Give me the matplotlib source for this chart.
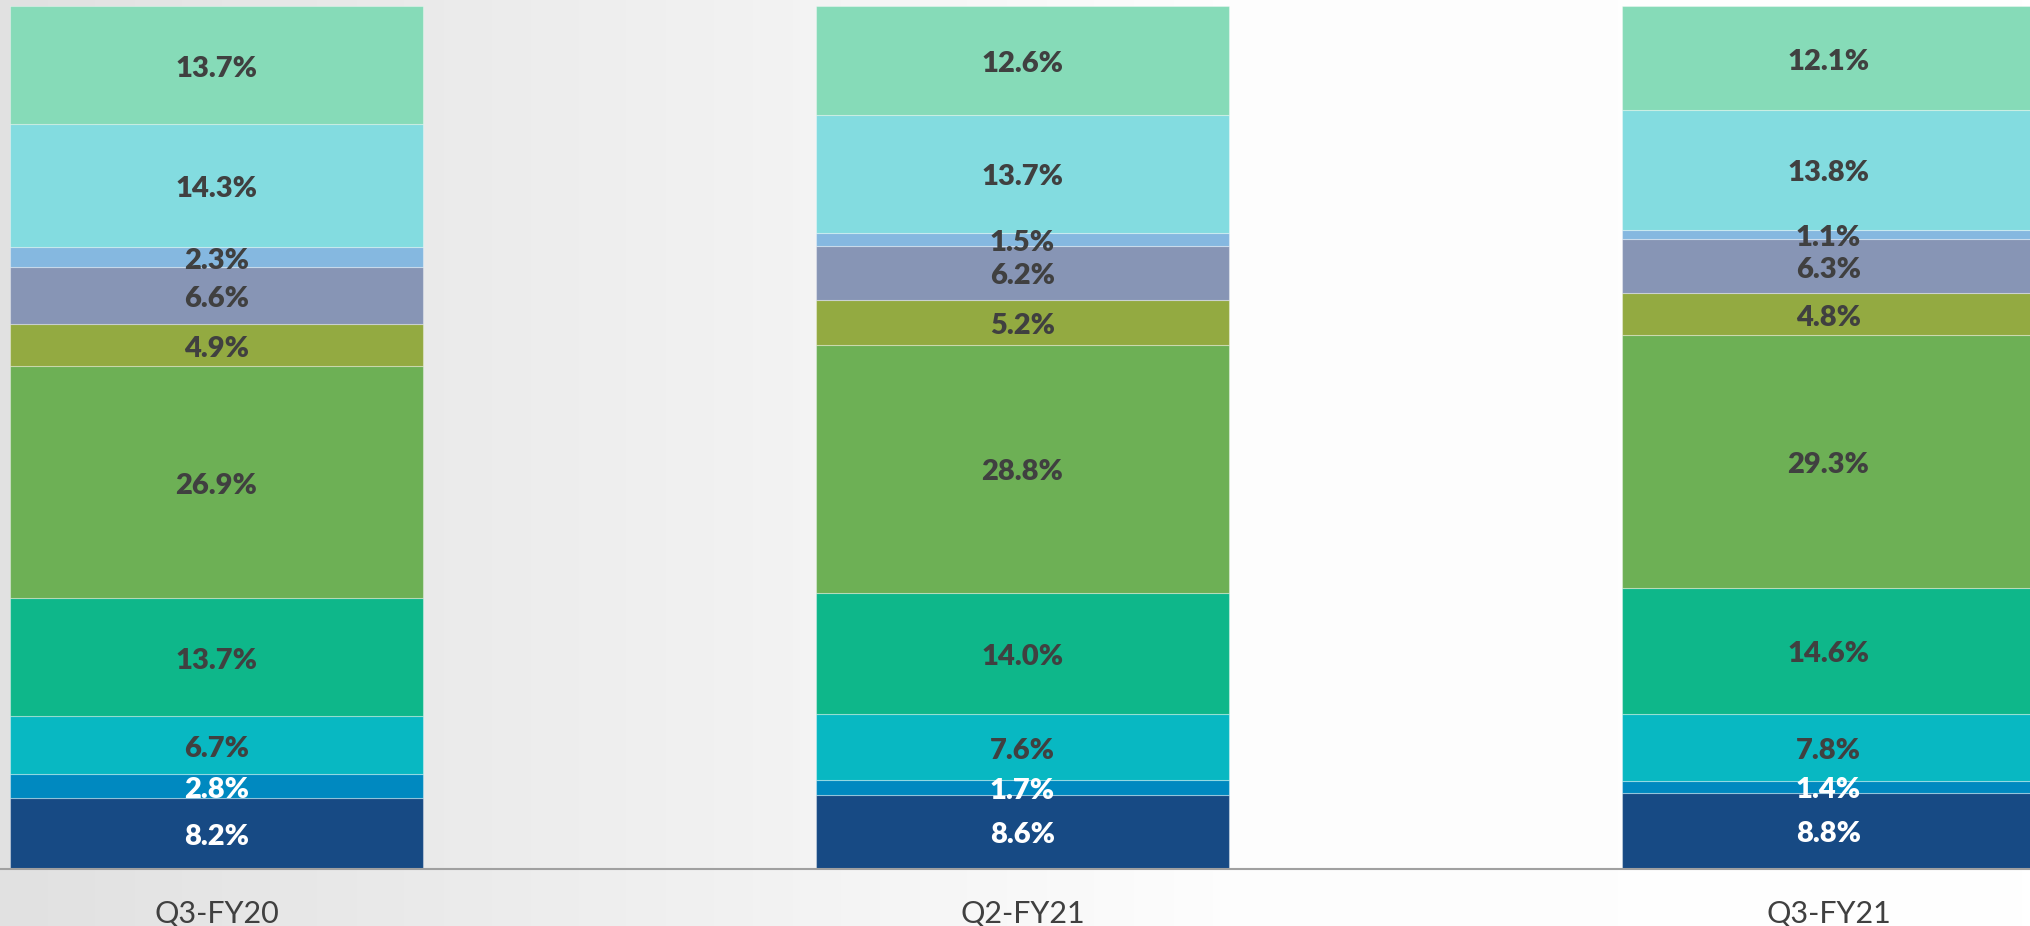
import numpy as np
import matplotlib.pyplot as plt
from matplotlib.colors import LinearSegmentedColormap

categories = ["Q3-FY20", "Q2-FY21", "Q3-FY21"]
# segments from bottom to top
seg1 = [8.2, 8.6, 8.8]
seg2 = [2.8, 1.7, 1.4]
seg3 = [6.7, 7.6, 7.8]
seg4 = [13.7, 14.0, 14.6]
seg5 = [26.9, 28.8, 29.3]
seg6 = [4.9, 5.2, 4.8]
seg7 = [6.6, 6.2, 6.3]
seg8 = [2.3, 1.5, 1.1]
seg9 = [14.3, 13.7, 13.8]
seg10 = [13.7, 12.6, 12.1]
series = [seg1, seg2, seg3, seg4, seg5, seg6, seg7, seg8, seg9, seg10]
colors = ["#174a84", "#0089c0", "#08b8c2", "#0eb78a", "#6db055",
          "#93aa41", "#8795b5", "#85b8e0", "#83dce0", "#86dbb8"]
label_colors = ["white", "white"] + ["#404040"] * 8

W, H = 2030, 926
fig = plt.figure(figsize=(W / 100, H / 100), dpi=100)

# background gradient
bg = fig.add_axes([0, 0, 1, 1])
bg.set_axis_off()
grad = np.linspace(0, 1, 256).reshape(1, -1)
cmap = LinearSegmentedColormap.from_list("bg", [(0, "#e1e1e1"), (0.35, "#f1f1f1"), (0.6, "#fdfdfd"), (1, "#ffffff")])
bg.imshow(grad, aspect="auto", cmap=cmap, extent=[0, 1, 0, 1])
bg.set_xlim(0, 1)
bg.set_ylim(0, 1)

bottom_px = 869
top_px = 6
ax = fig.add_axes([0, (H - bottom_px) / H, 1, (bottom_px - top_px) / H])
ax.patch.set_alpha(0)

data = np.array(series, dtype=float)
totals = data.sum(axis=0)
shares = data / totals * 100

x = np.arange(len(categories))
spacing = 806.0
width = 413 / spacing
ax.set_xlim(-216.5 / spacing, (W - 216.5) / spacing)
ax.set_ylim(0, 100)

base = np.zeros(len(categories))
for i, (vals, sh) in enumerate(zip(data, shares)):
    ax.bar(x, sh, width=width, bottom=base, color=colors[i],
           edgecolor=(1, 1, 1, 0.35), linewidth=0.8)
    for j in range(len(categories)):
        ax.text(x[j], base[j] + sh[j] / 2 - 0.4, f"{vals[j]:.1f}%",
                ha="center", va="center", fontsize=21, fontweight="heavy",
                family="Lato", color=label_colors[i])
    base += sh

for s in ["top", "left", "right"]:
    ax.spines[s].set_visible(False)
ax.spines["bottom"].set_color("#a0a0a0")
ax.spines["bottom"].set_linewidth(1.5)
ax.set_yticks([])
ax.set_xticks(x)
ax.set_xticklabels(categories, fontsize=22, family="Lato", color="#404040")
ax.tick_params(axis="x", length=0, pad=22)

fig.savefig("out.png", dpi=100)
